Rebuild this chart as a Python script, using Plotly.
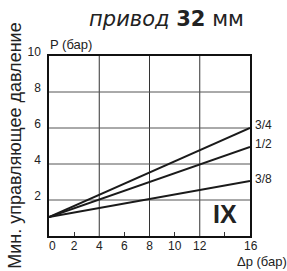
import plotly.graph_objects as go

dp = [0, 16]
series_names = ["3/4", "1/2", "3/8"]
series_values = [[1.05, 6.0], [1.05, 4.95], [1.05, 3.05]]
x_tick_vals = [0, 2, 4, 6, 8, 10, 12]
x_tick_text = ["\u00a0\u00a00", "2", "4", "6", "8", "10", "12"]
y_tick_vals = [2, 4, 6, 8, 10]
y_tick_text = ["2", "4", "6", "8", "10"]
minor_x = [2, 6, 10, 14]

FONT = "Liberation Sans, Arial, sans-serif"

fig = go.Figure()
for name, vals in zip(series_names, series_values):
    fig.add_trace(go.Scatter(x=dp, y=vals, mode="lines", line=dict(color="#1a1a1a", width=2),
                             showlegend=False, hoverinfo="skip"))
    fig.add_annotation(x=dp[-1], y=vals[-1], text=name, showarrow=False, xanchor="left",
                       xshift=3, yshift=3 if name != "3/8" else 2, font=dict(family=FONT, size=12, color="#222"))

fig.update_xaxes(range=[0, 16], tickvals=x_tick_vals, ticktext=x_tick_text, showgrid=False,
                 showline=True, linecolor="#111", linewidth=1.5, mirror=True, ticks="",
                 tickfont=dict(family=FONT, size=12, color="#222"), ticklabelstandoff=-2,
                 minor=dict(tickvals=minor_x, ticks="inside", ticklen=4, tickcolor="#333", tickwidth=1),
                 zeroline=False)
fig.update_yaxes(range=[0, 10], tickvals=y_tick_vals, ticktext=y_tick_text, showgrid=False,
                 showline=True, linecolor="#111", linewidth=1.5, mirror=True, ticks="",
                 tickfont=dict(family=FONT, size=12, color="#222"), ticklabelshift=-4,
                 ticklabelstandoff=4, zeroline=False)

for gx in [4, 8, 12]:
    fig.add_shape(type="line", x0=gx, x1=gx, y0=0, y1=10, line=dict(color="#333", width=1), layer="below")
for gy in [2, 4, 6, 8]:
    fig.add_shape(type="line", x0=0, x1=16, y0=gy, y1=gy, line=dict(color="#555", width=1), layer="below")

fig.add_annotation(x=16, y=0, text="16", showarrow=False, yanchor="top", yshift=-1, xshift=1,
                   font=dict(family=FONT, size=12, color="#222"))
fig.add_annotation(x=16, y=0, text="Δp (бар)", showarrow=False, yanchor="top", xanchor="center",
                   xshift=12, yshift=-16, font=dict(family=FONT, size=13, color="#222"))
fig.add_annotation(x=0, y=10, text="P (бар)", showarrow=False, yanchor="bottom", xanchor="left",
                   yshift=2, xshift=-1, font=dict(family=FONT, size=13, color="#222"))
fig.add_annotation(x=14, y=1.2, text="<b>IX</b>", showarrow=False,
                   font=dict(family=FONT, size=25, color="#222"))

fig.update_layout(
    width=287, height=271,
    margin=dict(l=49, r=37, t=56, b=35),
    paper_bgcolor="white", plot_bgcolor="white",
    title=dict(text="<i>привод</i> <b>32</b> мм", x=0.58, xanchor="center", y=0.93, yanchor="middle",
               font=dict(family="DejaVu Sans, sans-serif", size=21, color="#222")),
    annotations=list(fig.layout.annotations) + [
        dict(text="Мин. управляющее давление", xref="paper", yref="paper", x=-0.17, y=0.5,
             xanchor="center", yanchor="middle", textangle=-90, showarrow=False,
             font=dict(family=FONT, size=18, color="#222"))
    ],
)

fig.write_html("out.html", config={"displayModeBar": False},
               post_script="document.body.style.margin='0';document.body.style.overflow='hidden';")
